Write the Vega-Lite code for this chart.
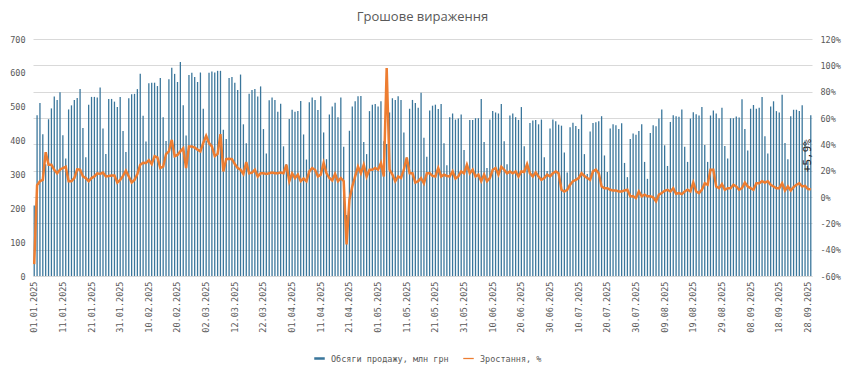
{
"$schema":"https://vega.github.io/schema/vega-lite/v6.json",
"width":779,"height":237,
"autosize":{"type":"none"},
"padding":{"left":33,"top":39,"right":38,"bottom":93},
"background":"white",
"title":{"text":"Грошове  вираження","fontSize":13,"font":"Open Sans","fontWeight":"normal","color":"#595959","offset":11},
"config":{"view":{"stroke":null},"axis":{"labelFont":"DejaVu Sans Mono","labelFontSize":8.5,"labelColor":"#595959","ticks":false,"tickSize":0,"domain":false,"title":null,"labelOverlap":false}},
"data":{"values":[
{"d":"01.01.2025","v":208,"g":-51},{"d":"02.01.2025","v":475,"g":9},{"d":"03.01.2025","v":511,"g":12},{"d":"04.01.2025","v":419,"g":13},{"d":"05.01.2025","v":330,"g":34},{"d":"06.01.2025","v":463,"g":24.5},{"d":"07.01.2025","v":495,"g":24.5},{"d":"08.01.2025","v":530,"g":20.7},{"d":"09.01.2025","v":520,"g":18},{"d":"10.01.2025","v":543,"g":20.7},{"d":"11.01.2025","v":416,"g":22},{"d":"12.01.2025","v":347,"g":23},{"d":"13.01.2025","v":492,"g":12},{"d":"14.01.2025","v":504,"g":12},{"d":"15.01.2025","v":520,"g":14.4},{"d":"16.01.2025","v":526,"g":21},{"d":"17.01.2025","v":552,"g":20.7},{"d":"18.01.2025","v":437,"g":15.6},{"d":"19.01.2025","v":351,"g":14.4},{"d":"20.01.2025","v":506,"g":12},{"d":"21.01.2025","v":529,"g":14.4},{"d":"22.01.2025","v":529,"g":15.6},{"d":"23.01.2025","v":527,"g":18},{"d":"24.01.2025","v":557,"g":17.5},{"d":"25.01.2025","v":436,"g":18.5},{"d":"26.01.2025","v":360,"g":15.6},{"d":"27.01.2025","v":523,"g":16},{"d":"28.01.2025","v":523,"g":16.3},{"d":"29.01.2025","v":515,"g":16.3},{"d":"30.01.2025","v":499,"g":11},{"d":"31.01.2025","v":529,"g":13},
{"d":"01.02.2025","v":428,"g":16},{"d":"02.02.2025","v":366,"g":20},{"d":"03.02.2025","v":525,"g":15.6},{"d":"04.02.2025","v":537,"g":11},{"d":"05.02.2025","v":538,"g":13},{"d":"06.02.2025","v":552,"g":17.5},{"d":"07.02.2025","v":597,"g":24.5},{"d":"08.02.2025","v":473,"g":26},{"d":"09.02.2025","v":397,"g":25.8},{"d":"10.02.2025","v":569,"g":28},{"d":"11.02.2025","v":571,"g":25},{"d":"12.02.2025","v":571,"g":31},{"d":"13.02.2025","v":561,"g":30},{"d":"14.02.2025","v":585,"g":22},{"d":"15.02.2025","v":469,"g":23},{"d":"16.02.2025","v":399,"g":32.6},{"d":"17.02.2025","v":581,"g":34.6},{"d":"18.02.2025","v":615,"g":43.4},{"d":"19.02.2025","v":597,"g":31},{"d":"20.02.2025","v":573,"g":32},{"d":"21.02.2025","v":632,"g":34.6},{"d":"22.02.2025","v":504,"g":37},{"d":"23.02.2025","v":415,"g":22},{"d":"24.02.2025","v":594,"g":38.4},{"d":"25.02.2025","v":600,"g":38.4},{"d":"26.02.2025","v":588,"g":37.5},{"d":"27.02.2025","v":573,"g":36},{"d":"28.02.2025","v":601,"g":34.6},
{"d":"01.03.2025","v":494,"g":41},{"d":"02.03.2025","v":400,"g":46.5},{"d":"03.03.2025","v":600,"g":41},{"d":"04.03.2025","v":604,"g":38.4},{"d":"05.03.2025","v":601,"g":31},{"d":"06.03.2025","v":606,"g":32.7},{"d":"07.03.2025","v":606,"g":47.8},{"d":"08.03.2025","v":432,"g":19.4},{"d":"09.03.2025","v":405,"g":28.8},{"d":"10.03.2025","v":585,"g":29},{"d":"11.03.2025","v":588,"g":28.8},{"d":"12.03.2025","v":571,"g":25},{"d":"13.03.2025","v":549,"g":22},{"d":"14.03.2025","v":595,"g":20.7},{"d":"15.03.2025","v":448,"g":17.5},{"d":"16.03.2025","v":392,"g":26.5},{"d":"17.03.2025","v":538,"g":18},{"d":"18.03.2025","v":549,"g":18.5},{"d":"19.03.2025","v":552,"g":20.7},{"d":"20.03.2025","v":530,"g":15.6},{"d":"21.03.2025","v":560,"g":18},{"d":"22.03.2025","v":434,"g":18},{"d":"23.03.2025","v":362,"g":17.5},{"d":"24.03.2025","v":519,"g":18},{"d":"25.03.2025","v":527,"g":18.5},{"d":"26.03.2025","v":520,"g":18},{"d":"27.03.2025","v":485,"g":18},{"d":"28.03.2025","v":509,"g":18.5},{"d":"29.03.2025","v":383,"g":18},{"d":"30.03.2025","v":330,"g":24.5},{"d":"31.03.2025","v":464,"g":12},
{"d":"01.04.2025","v":491,"g":18},{"d":"02.04.2025","v":485,"g":14.4},{"d":"03.04.2025","v":487,"g":17},{"d":"04.04.2025","v":517,"g":12},{"d":"05.04.2025","v":418,"g":14},{"d":"06.04.2025","v":344,"g":12},{"d":"07.04.2025","v":513,"g":19.4},{"d":"08.04.2025","v":527,"g":22},{"d":"09.04.2025","v":520,"g":20.7},{"d":"10.04.2025","v":490,"g":15.6},{"d":"11.04.2025","v":531,"g":17},{"d":"12.04.2025","v":424,"g":25.8},{"d":"13.04.2025","v":345,"g":18},{"d":"14.04.2025","v":477,"g":14.4},{"d":"15.04.2025","v":501,"g":12.6},{"d":"16.04.2025","v":512,"g":17.5},{"d":"17.04.2025","v":469,"g":12},{"d":"18.04.2025","v":527,"g":14.4},{"d":"19.04.2025","v":382,"g":12},{"d":"20.04.2025","v":180,"g":-36},{"d":"21.04.2025","v":429,"g":-2},{"d":"22.04.2025","v":501,"g":8},{"d":"23.04.2025","v":516,"g":15.6},{"d":"24.04.2025","v":531,"g":23},{"d":"25.04.2025","v":532,"g":18},{"d":"26.04.2025","v":396,"g":24.5},{"d":"27.04.2025","v":360,"g":15.6},{"d":"28.04.2025","v":487,"g":20.7},{"d":"29.04.2025","v":506,"g":20.7},{"d":"30.04.2025","v":508,"g":22},
{"d":"01.05.2025","v":501,"g":20.7},{"d":"02.05.2025","v":516,"g":25.8},{"d":"03.05.2025","v":398,"g":15.6},{"d":"04.05.2025","v":390,"g":98},{"d":"05.05.2025","v":483,"g":20.7},{"d":"06.05.2025","v":525,"g":17},{"d":"07.05.2025","v":520,"g":12},{"d":"08.05.2025","v":531,"g":15.6},{"d":"09.05.2025","v":520,"g":14.4},{"d":"10.05.2025","v":424,"g":20.7},{"d":"11.05.2025","v":350,"g":30},{"d":"12.05.2025","v":494,"g":18},{"d":"13.05.2025","v":520,"g":18},{"d":"14.05.2025","v":511,"g":11},{"d":"15.05.2025","v":497,"g":12},{"d":"16.05.2025","v":541,"g":14.4},{"d":"17.05.2025","v":408,"g":10.4},{"d":"18.05.2025","v":352,"g":18},{"d":"19.05.2025","v":489,"g":18},{"d":"20.05.2025","v":503,"g":16},{"d":"21.05.2025","v":506,"g":15.6},{"d":"22.05.2025","v":493,"g":22},{"d":"23.05.2025","v":508,"g":15.6},{"d":"24.05.2025","v":392,"g":17},{"d":"25.05.2025","v":327,"g":16},{"d":"26.05.2025","v":469,"g":15.6},{"d":"27.05.2025","v":480,"g":19.4},{"d":"28.05.2025","v":462,"g":14},{"d":"29.05.2025","v":465,"g":15.6},{"d":"30.05.2025","v":477,"g":19.4},{"d":"31.05.2025","v":372,"g":18},
{"d":"01.06.2025","v":330,"g":24.5},{"d":"02.06.2025","v":461,"g":18},{"d":"03.06.2025","v":461,"g":20.7},{"d":"04.06.2025","v":466,"g":15.6},{"d":"05.06.2025","v":466,"g":17},{"d":"06.06.2025","v":523,"g":12},{"d":"07.06.2025","v":396,"g":17},{"d":"08.06.2025","v":319,"g":12},{"d":"09.06.2025","v":462,"g":14.4},{"d":"10.06.2025","v":487,"g":20.7},{"d":"11.06.2025","v":483,"g":22},{"d":"12.06.2025","v":480,"g":17},{"d":"13.06.2025","v":508,"g":23},{"d":"14.06.2025","v":398,"g":20.7},{"d":"15.06.2025","v":330,"g":18},{"d":"16.06.2025","v":474,"g":19.4},{"d":"17.06.2025","v":480,"g":18},{"d":"18.06.2025","v":469,"g":19.4},{"d":"19.06.2025","v":461,"g":15.6},{"d":"20.06.2025","v":499,"g":19.4},{"d":"21.06.2025","v":383,"g":19},{"d":"22.06.2025","v":330,"g":25},{"d":"23.06.2025","v":452,"g":18},{"d":"24.06.2025","v":459,"g":15.6},{"d":"25.06.2025","v":461,"g":18.7},{"d":"26.06.2025","v":448,"g":15.6},{"d":"27.06.2025","v":462,"g":13},{"d":"28.06.2025","v":351,"g":14.4},{"d":"29.06.2025","v":310,"g":17},{"d":"30.06.2025","v":436,"g":15.6},
{"d":"01.07.2025","v":462,"g":18},{"d":"02.07.2025","v":457,"g":19.4},{"d":"03.07.2025","v":447,"g":18},{"d":"04.07.2025","v":444,"g":5.5},{"d":"05.07.2025","v":365,"g":4.2},{"d":"06.07.2025","v":306,"g":5.5},{"d":"07.07.2025","v":439,"g":9.3},{"d":"08.07.2025","v":453,"g":12},{"d":"09.07.2025","v":443,"g":13},{"d":"10.07.2025","v":434,"g":14.4},{"d":"11.07.2025","v":477,"g":18},{"d":"12.07.2025","v":360,"g":16},{"d":"13.07.2025","v":301,"g":14.4},{"d":"14.07.2025","v":427,"g":13},{"d":"15.07.2025","v":452,"g":19.4},{"d":"16.07.2025","v":454,"g":20.7},{"d":"17.07.2025","v":457,"g":18},{"d":"18.07.2025","v":472,"g":8},{"d":"19.07.2025","v":356,"g":6.7},{"d":"20.07.2025","v":307,"g":6.7},{"d":"21.07.2025","v":436,"g":5.5},{"d":"22.07.2025","v":448,"g":5},{"d":"23.07.2025","v":445,"g":5},{"d":"24.07.2025","v":434,"g":4.2},{"d":"25.07.2025","v":451,"g":4.2},{"d":"26.07.2025","v":334,"g":5},{"d":"27.07.2025","v":292,"g":5.5},{"d":"28.07.2025","v":405,"g":0.5},{"d":"29.07.2025","v":421,"g":0.5},{"d":"30.07.2025","v":417,"g":-0.8},{"d":"31.07.2025","v":428,"g":4.2},
{"d":"01.08.2025","v":448,"g":0.5},{"d":"02.08.2025","v":337,"g":1.8},{"d":"03.08.2025","v":287,"g":0.5},{"d":"04.08.2025","v":422,"g":0.5},{"d":"05.08.2025","v":445,"g":-0.3},{"d":"06.08.2025","v":442,"g":-3.3},{"d":"07.08.2025","v":465,"g":1.8},{"d":"08.08.2025","v":492,"g":3},{"d":"09.08.2025","v":386,"g":4.7},{"d":"10.08.2025","v":325,"g":5.5},{"d":"11.08.2025","v":455,"g":4.2},{"d":"12.08.2025","v":475,"g":6.7},{"d":"13.08.2025","v":472,"g":2.5},{"d":"14.08.2025","v":470,"g":3},{"d":"15.08.2025","v":492,"g":2.2},{"d":"16.08.2025","v":382,"g":4.2},{"d":"17.08.2025","v":337,"g":5.5},{"d":"18.08.2025","v":465,"g":4.2},{"d":"19.08.2025","v":484,"g":11},{"d":"20.08.2025","v":478,"g":4.2},{"d":"21.08.2025","v":474,"g":3},{"d":"22.08.2025","v":499,"g":5.5},{"d":"23.08.2025","v":387,"g":10.4},{"d":"24.08.2025","v":337,"g":9.3},{"d":"25.08.2025","v":474,"g":20.7},{"d":"26.08.2025","v":489,"g":20.7},{"d":"27.08.2025","v":480,"g":8},{"d":"28.08.2025","v":466,"g":6.7},{"d":"29.08.2025","v":497,"g":9.8},{"d":"30.08.2025","v":384,"g":5.5},{"d":"31.08.2025","v":347,"g":6.7},
{"d":"01.09.2025","v":466,"g":6.7},{"d":"02.09.2025","v":466,"g":9.3},{"d":"03.09.2025","v":471,"g":8},{"d":"04.09.2025","v":468,"g":5.5},{"d":"05.09.2025","v":522,"g":6.7},{"d":"06.09.2025","v":434,"g":11},{"d":"07.09.2025","v":371,"g":8},{"d":"08.09.2025","v":494,"g":6.7},{"d":"09.09.2025","v":505,"g":5.5},{"d":"10.09.2025","v":494,"g":10.4},{"d":"11.09.2025","v":497,"g":10.4},{"d":"12.09.2025","v":529,"g":12},{"d":"13.09.2025","v":413,"g":11},{"d":"14.09.2025","v":362,"g":12},{"d":"15.09.2025","v":501,"g":9.3},{"d":"16.09.2025","v":516,"g":8},{"d":"17.09.2025","v":487,"g":6.7},{"d":"18.09.2025","v":483,"g":6.7},{"d":"19.09.2025","v":535,"g":10.4},{"d":"20.09.2025","v":393,"g":5},{"d":"21.09.2025","v":345,"g":8},{"d":"22.09.2025","v":472,"g":5},{"d":"23.09.2025","v":491,"g":7.5},{"d":"24.09.2025","v":491,"g":9.3},{"d":"25.09.2025","v":487,"g":10.4},{"d":"26.09.2025","v":504,"g":8},{"d":"27.09.2025","v":400,"g":8.5},{"d":"28.09.2025","v":340,"g":6},{"d":"29.09.2025","v":475,"g":5.9}
]},
"encoding":{
 "x":{"field":"d","type":"ordinal","sort":null,
  "scale":{"paddingInner":0.55,"paddingOuter":0.2},
  "axis":{"values":["01.01.2025","11.01.2025","21.01.2025","31.01.2025","10.02.2025","20.02.2025","02.03.2025","12.03.2025","22.03.2025","01.04.2025","11.04.2025","21.04.2025","01.05.2025","11.05.2025","21.05.2025","31.05.2025","10.06.2025","20.06.2025","30.06.2025","10.07.2025","20.07.2025","30.07.2025","09.08.2025","19.08.2025","29.08.2025","08.09.2025","18.09.2025","28.09.2025"],
   "labelAngle":270,"labelPadding":5,"domain":true,"domainColor":"#d9d9d9"}}
},
"layer":[
 {"mark":{"type":"bar"},
  "encoding":{
   "y":{"field":"v","type":"quantitative","scale":{"domain":[0,700],"nice":false},"axis":{"orient":"left","values":[0,100,200,300,400,500,600,700],"grid":false,"labelPadding":8}},
   "color":{"datum":"Обсяги продажу, млн грн","type":"nominal",
     "scale":{"domain":["Обсяги продажу, млн грн","Зростання, %"],"range":["#3a769b","#ed7d31"]},
     "legend":{"orient":"none","legendX":276,"legendY":309,"direction":"horizontal","title":null,
       "symbolSize":441,"labelFont":"DejaVu Sans Mono","labelFontSize":8.5,"labelColor":"#595959","columnPadding":9,"labelOffset":1,
       "encode":{"symbols":{"update":{
         "shape":{"signal":"datum.value === 'Зростання, %' ? 'M-0.5,-0.06H0.5V0.06H-0.5Z' : 'M-0.5,-0.12H0.5V0.12H-0.5Z'"},
         "fill":{"signal":"datum.value === 'Зростання, %' ? '#ed7d31' : '#1f5f85'"},
         "stroke":{"value":"transparent"},
         "strokeWidth":{"value":0},
         "opacity":{"value":1}}}}}}
  }},
 {"encoding":{
   "y":{"field":"g","type":"quantitative","scale":{"domain":[-60,120],"nice":false},"axis":{"orient":"right","values":[-60,-40,-20,0,20,40,60,80,100,120],"grid":true,"gridColor":"#d9d9d9","labelPadding":8,"labelOverlap":false,"labelExpr":"datum.value + '%'"}}},
  "layer":[
   {"mark":{"type":"line","strokeWidth":2.5},
    "encoding":{"color":{"datum":"Зростання, %","type":"nominal"}}},
   {"transform":[{"filter":"datum.d === '29.09.2025'"}],
    "mark":{"type":"text","angle":270,"align":"left","baseline":"middle","dx":17,"dy":-3,"font":"DejaVu Sans Mono","fontSize":11,"color":"#262626"},
    "encoding":{"text":{"value":"+5,9%"}}}
 ]}
],
"resolve":{"scale":{"y":"independent"}}
}
